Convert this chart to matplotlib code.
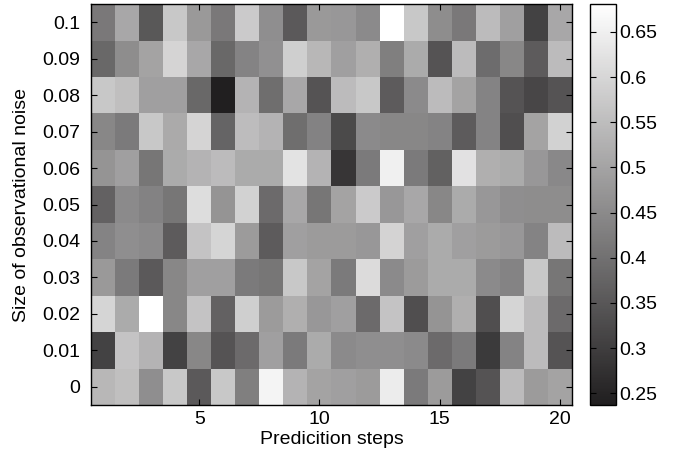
import numpy as np
import matplotlib
matplotlib.use("Agg")
import matplotlib.pyplot as plt
from matplotlib.colors import LinearSegmentedColormap

plt.rcParams['font.family'] = ['Liberation Sans', 'DejaVu Sans']

steps = list(range(1, 21))
noise_levels = [0.0, 0.01, 0.02, 0.03, 0.04, 0.05, 0.06, 0.07, 0.08, 0.09, 0.1]
noise_labels = ["0", "0.01", "0.02", "0.03", "0.04", "0.05", "0.06", "0.07", "0.08", "0.09", "0.1"]
step_ticks = [5, 10, 15, 20]
cbar_ticks = [0.25, 0.3, 0.35, 0.4, 0.45, 0.5, 0.55, 0.6, 0.65]
cbar_labels = ["0.25", "0.3", "0.35", "0.4", "0.45", "0.5", "0.55", "0.6", "0.65"]

row_000 = [0.540, 0.556, 0.460, 0.572, 0.356, 0.572, 0.428, 0.659, 0.532, 0.500, 0.492, 0.484, 0.643, 0.420, 0.484, 0.309, 0.343, 0.548, 0.484, 0.500]
row_001 = [0.309, 0.564, 0.532, 0.309, 0.444, 0.343, 0.388, 0.492, 0.420, 0.516, 0.452, 0.460, 0.460, 0.452, 0.388, 0.420, 0.293, 0.438, 0.548, 0.343]
row_002 = [0.599, 0.516, 0.681, 0.444, 0.564, 0.372, 0.587, 0.484, 0.524, 0.478, 0.492, 0.388, 0.564, 0.333, 0.470, 0.524, 0.333, 0.599, 0.548, 0.388]
row_003 = [0.480, 0.420, 0.356, 0.444, 0.492, 0.492, 0.420, 0.412, 0.572, 0.500, 0.420, 0.611, 0.452, 0.484, 0.516, 0.516, 0.452, 0.438, 0.572, 0.412]
row_004 = [0.438, 0.460, 0.452, 0.360, 0.564, 0.599, 0.484, 0.360, 0.492, 0.484, 0.484, 0.478, 0.595, 0.492, 0.516, 0.492, 0.484, 0.478, 0.438, 0.548]
row_005 = [0.372, 0.452, 0.436, 0.412, 0.615, 0.470, 0.591, 0.388, 0.508, 0.412, 0.500, 0.578, 0.478, 0.508, 0.444, 0.516, 0.478, 0.460, 0.456, 0.456]
row_006 = [0.470, 0.492, 0.412, 0.516, 0.532, 0.548, 0.516, 0.516, 0.627, 0.532, 0.285, 0.420, 0.651, 0.420, 0.370, 0.623, 0.524, 0.516, 0.478, 0.448]
row_007 = [0.444, 0.420, 0.572, 0.514, 0.597, 0.376, 0.550, 0.532, 0.396, 0.436, 0.325, 0.452, 0.444, 0.444, 0.438, 0.360, 0.438, 0.333, 0.500, 0.591]
row_008 = [0.572, 0.556, 0.492, 0.492, 0.384, 0.241, 0.532, 0.396, 0.508, 0.343, 0.548, 0.572, 0.360, 0.452, 0.548, 0.500, 0.438, 0.343, 0.317, 0.343]
row_009 = [0.384, 0.456, 0.500, 0.597, 0.508, 0.384, 0.438, 0.464, 0.587, 0.540, 0.492, 0.524, 0.428, 0.516, 0.343, 0.548, 0.392, 0.444, 0.360, 0.548]
row_010 = [0.416, 0.508, 0.352, 0.572, 0.480, 0.416, 0.578, 0.460, 0.356, 0.480, 0.478, 0.452, 0.681, 0.572, 0.456, 0.416, 0.548, 0.492, 0.309, 0.508]

data = np.array([row_000, row_001, row_002, row_003, row_004, row_005,
                 row_006, row_007, row_008, row_009, row_010])

vmin, vmax = 0.237, 0.681
cmap = LinearSegmentedColormap.from_list("printgray", ["#201e1f", "#ffffff"])

W, H = 676, 450
L, R, T, B = 91, 572, 4, 405
fig = plt.figure(figsize=(W / 100, H / 100), dpi=100)
ax = fig.add_axes([L / W, 1 - B / H, (R - L) / W, (B - T) / H])
cax = fig.add_axes([590 / W, 1 - B / H, (616 - 590) / W, (B - T) / H])

dy = noise_levels[1] - noise_levels[0]
im = ax.imshow(data, cmap=cmap, vmin=vmin, vmax=vmax, origin='lower', aspect='auto',
               interpolation='nearest',
               extent=[steps[0] - 0.5, steps[-1] + 0.5,
                       noise_levels[0] - dy / 2, noise_levels[-1] + dy / 2])

fs = 14
ax.set_xticks(step_ticks)
ax.set_xticklabels([str(s) for s in step_ticks])
ax.set_yticks(noise_levels)
ax.set_yticklabels(noise_labels)
ax.tick_params(direction='in', top=True, right=True, length=4, width=0.8,
               labelsize=fs, colors='black')
ax.tick_params(axis='y', pad=8)
ax.tick_params(axis='x', pad=4)
for sp in ax.spines.values():
    sp.set_linewidth(1.0)
ax.set_xlabel("Predicition steps", fontsize=fs)
ax.set_ylabel("Size of observational noise", fontsize=fs)
ax.xaxis.label.set_va('center')
ax.xaxis.set_label_coords(0.5, -(440 - B) / (B - T))
ax.yaxis.label.set_va('center')
ax.yaxis.set_label_coords(-(L - 22) / (R - L), 0.5)

cb = fig.colorbar(im, cax=cax)
cb.set_ticks(cbar_ticks)
cb.set_ticklabels(cbar_labels)
cax.tick_params(direction='in', left=True, right=True, length=4, width=0.8,
                labelsize=fs, pad=2)
cb.outline.set_linewidth(1.0)

fig.savefig("out.png", dpi=100)
